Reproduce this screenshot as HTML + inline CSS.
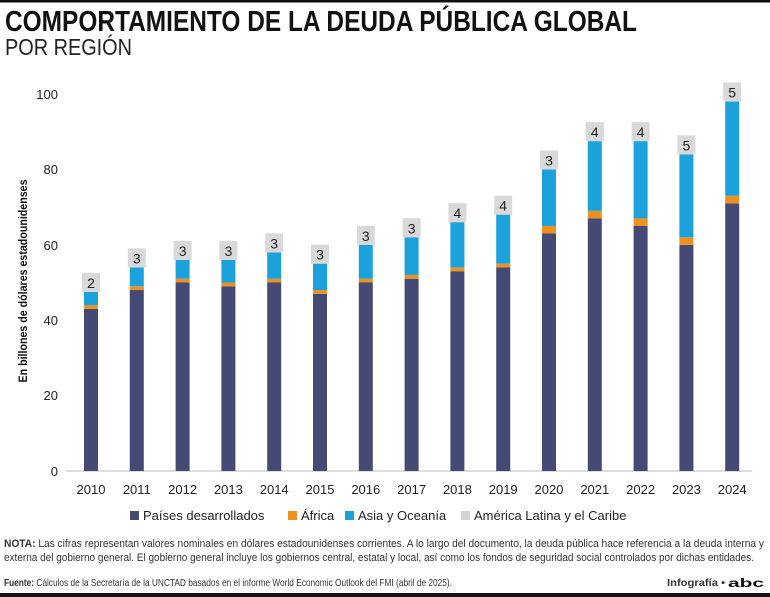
<!DOCTYPE html>
<html><head><meta charset="utf-8"><style>
html,body{margin:0;padding:0;background:#fff;}
svg{display:block;font-family:"Liberation Sans",sans-serif;}
</style></head><body>
<svg width="770" height="597" viewBox="0 0 770 597" xmlns="http://www.w3.org/2000/svg">
<rect x="0" y="0" width="770" height="2.5" fill="#111"/>
<text x="5" y="31" font-size="29" font-weight="bold" fill="#111" textLength="632" lengthAdjust="spacingAndGlyphs">COMPORTAMIENTO DE LA DEUDA PÚBLICA GLOBAL</text>
<text x="5" y="55" font-size="23" fill="#222" textLength="127" lengthAdjust="spacingAndGlyphs">POR REGIÓN</text>
<g font-size="13" fill="#222" text-anchor="end">
<text x="58" y="99">100</text><text x="58" y="174">80</text><text x="58" y="250">60</text>
<text x="58" y="325">40</text><text x="58" y="400">20</text><text x="58" y="476">0</text>
</g>
<text transform="translate(27,281) rotate(-90)" font-size="12" font-weight="bold" fill="#111" text-anchor="middle" textLength="203" lengthAdjust="spacingAndGlyphs">En billones de dólares estadounidenses</text>
<line x1="66" y1="471" x2="752" y2="471" stroke="#bbb" stroke-width="1"/>
<g id="bars"></g>
<g font-size="13" fill="#222" text-anchor="middle" id="years"></g>
<g font-size="13" fill="#222">
<rect x="130" y="511" width="9" height="9" fill="#454a75"/><text x="143" y="520">Países desarrollados</text>
<rect x="288" y="511" width="9" height="9" fill="#f0901e"/><text x="301" y="520">África</text>
<rect x="345" y="511" width="9" height="9" fill="#1ba1dc"/><text x="358" y="520">Asia y Oceanía</text>
<rect x="461" y="511" width="9" height="9" fill="#d4d4d4"/><text x="474" y="520">América Latina y el Caribe</text>
</g>
<g font-size="11" fill="#333">
<text x="4" y="547" textLength="760" lengthAdjust="spacingAndGlyphs"><tspan font-weight="bold">NOTA:</tspan> Las cifras representan valores nominales en dólares estadounidenses corrientes. A lo largo del documento, la deuda pública hace referencia a la deuda interna y</text>
<text x="4" y="561" textLength="750" lengthAdjust="spacingAndGlyphs">externa del gobierno general. El gobierno general incluye los gobiernos central, estatal y local, así como los fondos de seguridad social controlados por dichas entidades.</text>
<text x="4" y="586" font-size="10" textLength="448" lengthAdjust="spacingAndGlyphs"><tspan font-weight="bold">Fuente:</tspan> Cálculos de la Secretaría de la UNCTAD basados en el informe World Economic Outlook del FMI (abril de 2025).</text>
<text x="667" y="586" font-size="10" font-weight="bold" textLength="58" lengthAdjust="spacingAndGlyphs">Infografía •</text>
<text x="728" y="587" font-size="12" font-weight="bold" fill="#111" textLength="36" lengthAdjust="spacingAndGlyphs">abc</text>
</g>
<rect x="0" y="593" width="770" height="4" fill="#111"/>
<script>
var d=[[43,1,3.5,2],[48,1,5,3],[50,1,5,3],[49,1,6,3],[50,1,7,3],[47,1,7,3],[50,1,9,3],[51,1,10,3],[53,1,12,4],[54,1,13,4],[63,2,15,3],[67,2,18.5,4],[65,2,20.5,4],[60,2,22,5],[71,2,25,5]];
var c=["#454a75","#f0901e","#1ba1dc"];var ns="http://www.w3.org/2000/svg";
var g=document.getElementById("bars"),yg=document.getElementById("years");
function Y(v){return 471-v*3.77;}
d.forEach(function(r,i){var cx=91+i*45.8,acc=0;
for(var k=0;k<3;k++){var e=document.createElementNS(ns,"rect");e.setAttribute("x",cx-7);e.setAttribute("width",14);e.setAttribute("y",Y(acc+r[k]));e.setAttribute("height",r[k]*3.77);e.setAttribute("fill",c[k]);g.appendChild(e);acc+=r[k];}
var t=Y(acc);var b=document.createElementNS(ns,"rect");b.setAttribute("x",cx-9);b.setAttribute("y",t-19);b.setAttribute("width",18);b.setAttribute("height",19);b.setAttribute("fill","#d9d9d9");g.appendChild(b);
var tx=document.createElementNS(ns,"text");tx.setAttribute("x",cx);tx.setAttribute("y",t-4);tx.setAttribute("text-anchor","middle");tx.setAttribute("font-size","14");tx.setAttribute("fill","#222");tx.textContent=r[3];g.appendChild(tx);
var yt=document.createElementNS(ns,"text");yt.setAttribute("x",cx);yt.setAttribute("y",494);yt.textContent=2010+i;yg.appendChild(yt);});
</script>
</svg>
</body></html>
